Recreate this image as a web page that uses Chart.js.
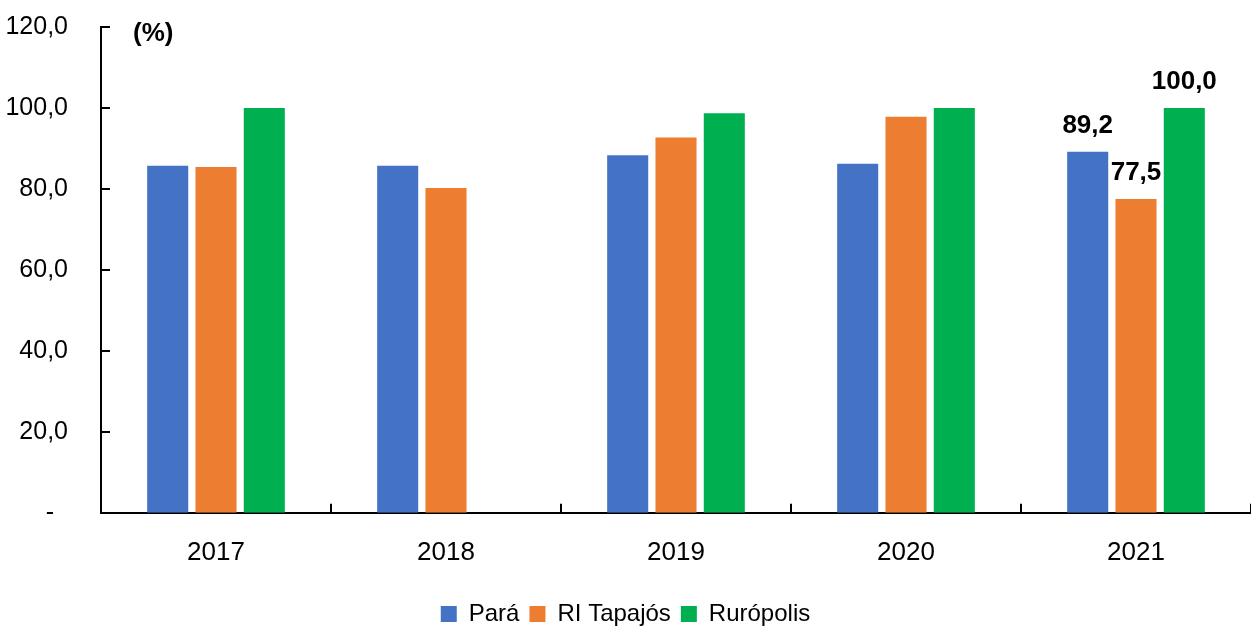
<!DOCTYPE html>
<html>
<head>
<meta charset="utf-8">
<script src="https://cdn.jsdelivr.net/npm/chart.js@4/dist/chart.umd.min.js"></script>
<style>
  html, body { margin: 0; padding: 0; background: #fff; }
  #wrap { width: 1251px; height: 627px; }
</style>
</head>
<body>
<div id="wrap"><canvas id="chart"></canvas></div>
<script>
const years = ['2017', '2018', '2019', '2020', '2021'];
const para = [85.7, 85.7, 88.3, 86.2, 89.2];
const tapajos = [85.4, 80.2, 92.7, 97.8, 77.5];
const ruropolis = [100.0, null, 98.7, 100.0, 100.0];
const showValue = [false, false, false, false, true];
const yTicks = [0, 20, 40, 60, 80, 100, 120];

const FONT = '"Liberation Sans Narrow", "Arial Narrow", "Liberation Sans", Arial, sans-serif';

const fmt = v => v.toFixed(1).replace('.', ',');

// inward tick marks + "(%)" note + value labels on the last year
const extras = {
    id: 'extras',
    afterDraw(c) {
        const ctx = c.ctx;
        const x = c.scales.x, y = c.scales.y;
        const area = c.chartArea;
        ctx.save();
        ctx.strokeStyle = '#000';
        ctx.lineWidth = 2;
        ctx.beginPath();
        yTicks.forEach(v => {
            const py = Math.round(y.getPixelForValue(v));
            ctx.moveTo(area.left, py);
            ctx.lineTo(area.left + 9, py);
        });
        const step = (area.right - area.left) / years.length;
        for (let i = 0; i <= years.length; i++) {
            const px = Math.round(area.left + i * step);
            ctx.moveTo(px, area.bottom);
            ctx.lineTo(px, area.bottom - 9);
        }
        ctx.stroke();

        ctx.fillStyle = '#000';
        ctx.font = 'bold 26px ' + FONT;
        ctx.textAlign = 'left';
        ctx.textBaseline = 'alphabetic';
        ctx.fillText('(%)', area.left + 32, area.top + 14);

        ctx.textAlign = 'center';
        c.data.datasets.forEach((ds, di) => {
            const meta = c.getDatasetMeta(di);
            ds.data.forEach((v, i) => {
                if (!showValue[i] || v == null) return;
                const bar = meta.data[i];
                ctx.fillText(fmt(v), bar.x, bar.y - 19);
            });
        });
        ctx.restore();
    }
};

new Chart(document.getElementById('chart'), {
    type: 'bar',
    data: {
        labels: years,
        datasets: [
            { label: 'Pará', data: para, backgroundColor: '#4472C4' },
            { label: 'RI Tapajós', data: tapajos, backgroundColor: '#ED7D31' },
            { label: 'Rurópolis', data: ruropolis, backgroundColor: '#00B050' }
        ]
    },
    options: {
        responsive: true,
        maintainAspectRatio: false,
        animation: false,
        layout: { padding: { top: 27, right: 0, left: 0, bottom: -9 } },
        datasets: {
            bar: { barPercentage: 0.85, categoryPercentage: 0.63 }
        },
        plugins: {
            legend: {
                position: 'bottom',
                labels: {
                    boxWidth: 16,
                    boxHeight: 16,
                    padding: 10,
                    color: '#000',
                    font: { family: FONT, size: 24 }
                }
            },
            tooltip: { enabled: false }
        },
        scales: {
            x: {
                grid: { display: false, drawTicks: false },
                border: { display: true, color: '#000', width: 2 },
                ticks: { color: '#000', padding: 24, font: { family: FONT, size: 26 } }
            },
            y: {
                min: 0,
                max: 120,
                afterBuildTicks: s => { s.ticks = yTicks.map(v => ({ value: v })); },
                afterFit: s => {
                    s.width = 101;
                    s.paddingTop = 0;
                    s.paddingBottom = 0;
                },
                grid: { display: false, drawTicks: false },
                border: { display: true, color: '#000', width: 2 },
                ticks: {
                    color: '#000',
                    padding: 33,
                    font: { family: FONT, size: 25 },
                    callback: v => v === 0 ? '-  ' : fmt(v)
                }
            }
        }
    },
    plugins: [extras]
});
</script>
</body>
</html>
